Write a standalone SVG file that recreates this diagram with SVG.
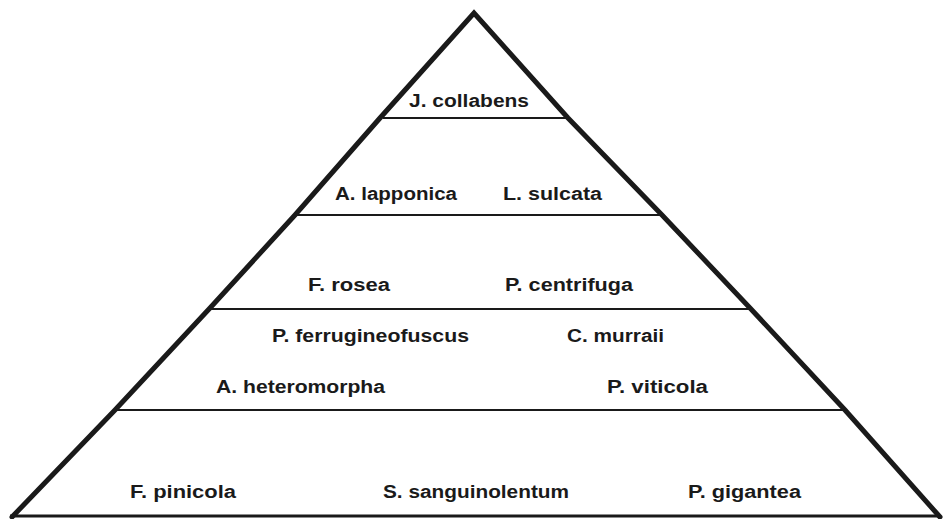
<svg xmlns="http://www.w3.org/2000/svg" width="945" height="519" viewBox="0 0 945 519">
<style>
.edge{fill:none;stroke:#1a1a1a;stroke-width:5;stroke-linejoin:miter;stroke-linecap:round}
.tier{fill:none;stroke:#1a1a1a;stroke-width:2}
.base{fill:none;stroke:#1a1a1a;stroke-width:3}
.lbl{font-family:"Liberation Sans",Arial,sans-serif;font-size:18px;font-weight:bold;fill:#1a1a1a}
</style>
<rect width="945" height="519" fill="#ffffff"/>
<g id="pyramid">
<polyline class="edge" points="12,517 115,410 210,308 295,215 380,118 474,13 568,118 662,215 750,308 845,410 940,517"/>
</g>
<g id="connectors">
<line class="tier" x1="383" y1="118" x2="567" y2="118"/>
<line class="tier" x1="297" y1="215" x2="660" y2="215"/>
<line class="tier" x1="211" y1="309" x2="750" y2="309"/>
<line class="tier" x1="117" y1="410" x2="843" y2="410"/>
<line class="base" x1="10" y1="516" x2="940" y2="516"/>
</g>
<g id="tier1">
<text class="lbl" x="409" y="107" textLength="120" lengthAdjust="spacingAndGlyphs">J. collabens</text>
</g>
<g id="tier2">
<text class="lbl" x="335" y="200" textLength="122" lengthAdjust="spacingAndGlyphs">A. lapponica</text>
<text class="lbl" x="503" y="200" textLength="99" lengthAdjust="spacingAndGlyphs">L. sulcata</text>
</g>
<g id="tier3">
<text class="lbl" x="308" y="291" textLength="82" lengthAdjust="spacingAndGlyphs">F. rosea</text>
<text class="lbl" x="505" y="291" textLength="128" lengthAdjust="spacingAndGlyphs">P. centrifuga</text>
</g>
<g id="tier4">
<text class="lbl" x="272" y="342" textLength="197" lengthAdjust="spacingAndGlyphs">P. ferrugineofuscus</text>
<text class="lbl" x="567" y="342" textLength="97" lengthAdjust="spacingAndGlyphs">C. murraii</text>
<text class="lbl" x="216" y="393" textLength="169" lengthAdjust="spacingAndGlyphs">A. heteromorpha</text>
<text class="lbl" x="607" y="393" textLength="101" lengthAdjust="spacingAndGlyphs">P. viticola</text>
</g>
<g id="tier5">
<text class="lbl" x="130" y="498" textLength="106" lengthAdjust="spacingAndGlyphs">F. pinicola</text>
<text class="lbl" x="383" y="498" textLength="186" lengthAdjust="spacingAndGlyphs">S. sanguinolentum</text>
<text class="lbl" x="688" y="498" textLength="113" lengthAdjust="spacingAndGlyphs">P. gigantea</text>
</g>
</svg>
